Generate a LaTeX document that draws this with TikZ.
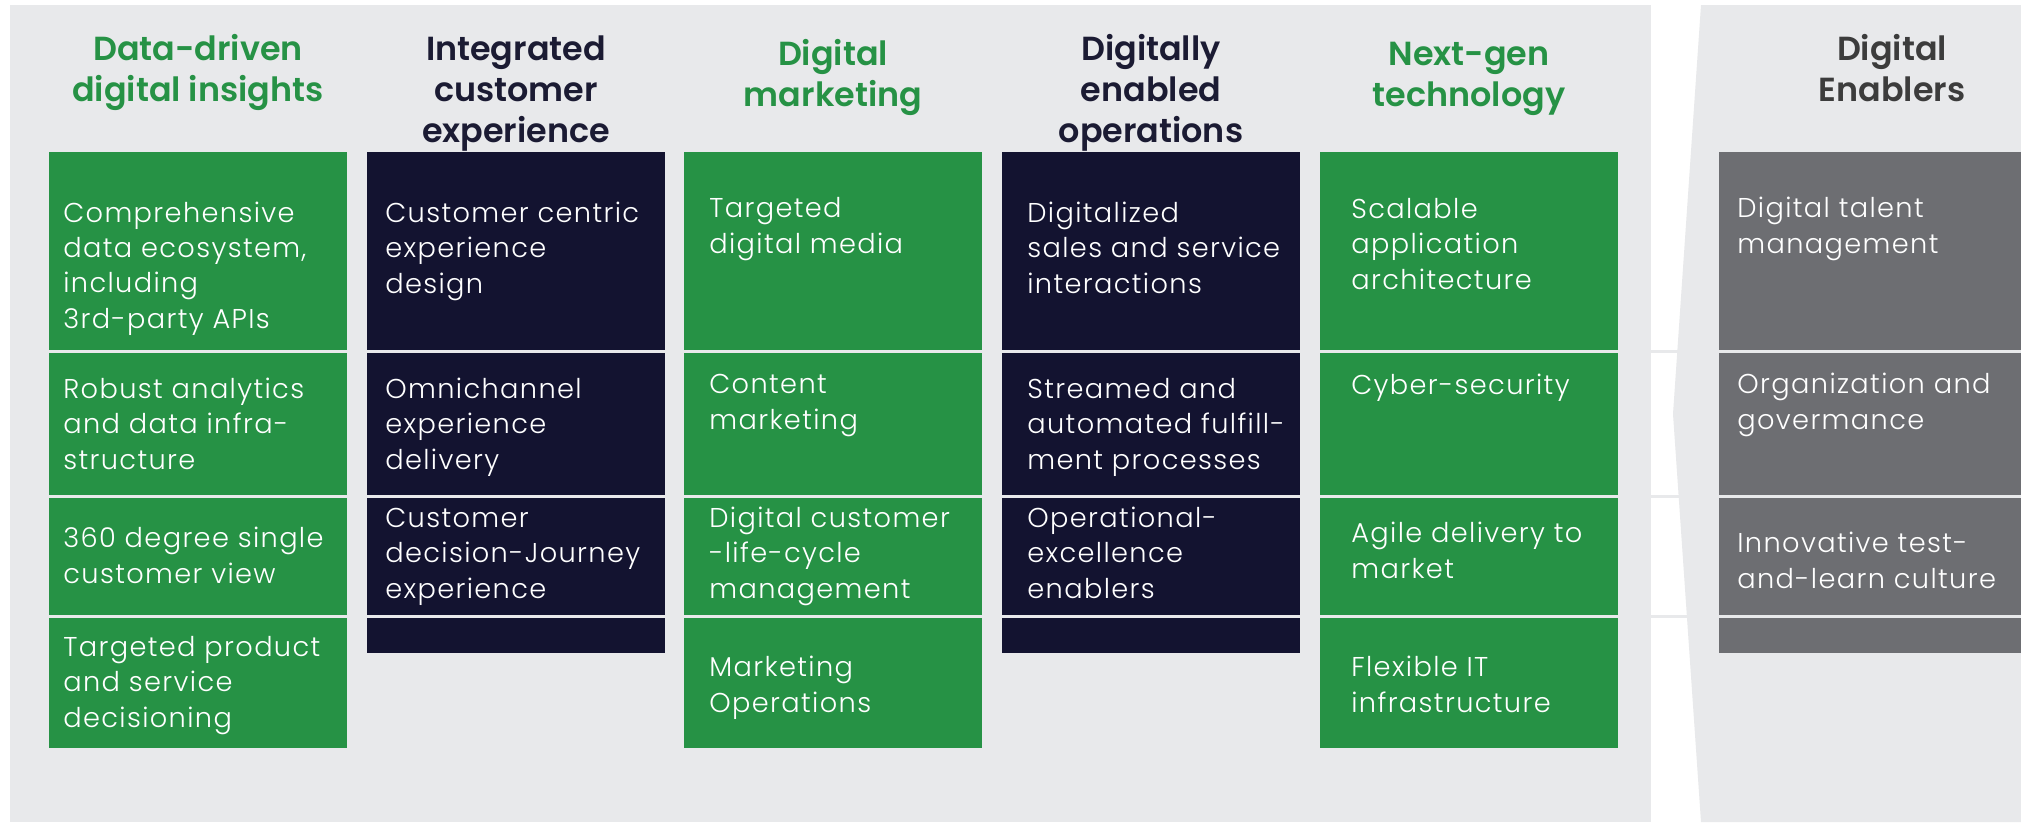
\documentclass[tikz,border=0pt]{standalone}
\usepackage{fontspec}
\setmainfont{Poppins}[UprightFont=* Light, BoldFont=* SemiBold]
\usetikzlibrary{positioning}

\definecolor{panelgrey}{HTML}{E8E9EB}
\definecolor{dgreen}{HTML}{269245}
\definecolor{dnavy}{HTML}{131330}
\definecolor{dslate}{HTML}{6D6E72}
\definecolor{headnavy}{HTML}{1B1B33}
\definecolor{headgrey}{HTML}{3C3C3C}

\begin{document}
\begin{tikzpicture}[x=0.02cm, y=-0.02cm,
        pillar/.style={anchor=north west, inner sep=0pt, draw=none,
            minimum width=5.96cm},
        tall/.style={pillar, minimum height=11.92cm},
        short/.style={pillar, minimum height=10.02cm},
        item/.style={anchor=base west, align=left, inner sep=0pt, text=white,
            font=\fontsize{15.5}{20.1}\selectfont\addfontfeatures{LetterSpace=5}},
        head/.style={anchor=base, align=center, inner sep=0pt,
            font=\bfseries\fontsize{19}{23.2}\selectfont},
        rowrule/.style={draw=panelgrey, line width=1.7pt},
    ]

    \useasboundingbox[fill=white] (0,0) rectangle (2021,822);

    % two background panels
    \fill[panelgrey] (10,5) rectangle (1651,822);
    \fill[panelgrey] (1701,5) -- (2021,5) -- (2021,822) -- (1701,822)
        -- (1673,414) -- cycle;

    % pillars
    \node[tall, fill=dgreen] (col1) at (49,152) {};
    \node[short, fill=dnavy] (col2) at (367,152) {};
    \node[tall, fill=dgreen] (col3) at (684,152) {};
    \node[short, fill=dnavy] (col4) at (1002,152) {};
    \node[tall, fill=dgreen] (col5) at (1320,152) {};
    \node[short, fill=dslate, minimum width=6.2cm] (col6) at (1719,152) {};

    % row separators
    \foreach \y in {351,496,616}
        \draw[rowrule] (10,\y) -- (2021,\y);

    % headings (placed at the baseline of their last line)
    \node[head, text=dgreen] (h1) at (198,101) {Data-driven\\digital insights};
    \node[head, text=headnavy] (h2) at (516,142) {Integrated\\customer\\experience};
    \node[head, text=dgreen] (h3) at (833,106) {Digital\\marketing};
    \node[head, text=headnavy] (h4) at (1151,142) {Digitally\\enabled\\operations};
    \node[head, text=dgreen] (h5) at (1469,106) {Next-gen\\technology};
    \node[head, text=headgrey] (h6) at (1892,101) {Digital\\Enablers};

    % data-driven insights
    \node[item] (a1) at (63,328) {Comprehensive\\data ecosystem,\\including\\3rd-party APIs};
    \node[item] (a2) at (63,469) {Robust analytics\\and data infra-\\structure};
    \node[item] (a3) at (63,583) {360 degree single\\customer view};
    \node[item] (a4) at (63,727) {Targeted product\\and service\\decisioning};

    % customer experience
    \node[item] (b1) at (385,293) {Customer centric\\experience\\design};
    \node[item] (b2) at (385,469) {Omnichannel\\experience\\delivery};
    \node[item] (b3) at (385,598) {Customer\\decision-Journey\\experience};

    % marketing
    \node[item] (c1) at (709,253) {Targeted\\digital media};
    \node[item] (c2) at (709,429) {Content\\marketing};
    \node[item] (c3) at (709,598) {Digital customer\\-life-cycle\\management};
    \node[item] (c4) at (709,712) {Marketing\\Operations};

    % operations
    \node[item] (d1) at (1027,293) {Digitalized\\sales and service\\interactions};
    \node[item] (d2) at (1027,469) {Streamed and\\automated fulfill-\\ment processes};
    \node[item] (d3) at (1027,598) {Operational-\\excellence\\enablers};

    % technology
    \node[item] (e1) at (1351,289) {Scalable\\application\\architecture};
    \node[item] (e2) at (1351,394) {Cyber-security};
    \node[item] (e3) at (1351,578) {Agile delivery to\\market};
    \node[item] (e4) at (1351,712) {Flexible IT\\infrastructure};

    % enablers
    \node[item] (f1) at (1737,253) {Digital talent\\management};
    \node[item] (f2) at (1737,429) {Organization and\\govermance};
    \node[item] (f3) at (1737,588) {Innovative test-\\and-learn culture};
\end{tikzpicture}
\end{document}
